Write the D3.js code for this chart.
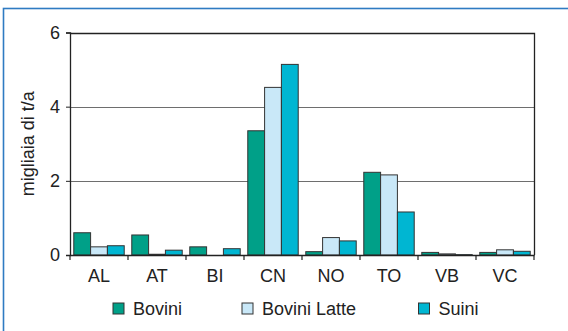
<!DOCTYPE html>
<html>
<head>
<meta charset="utf-8">
<script src="https://cdn.jsdelivr.net/npm/d3@7"></script>
<style>
  html, body { margin: 0; padding: 0; background: #fff; }
  svg { display: block; font-family: "Liberation Sans", Arial, sans-serif; }
</style>
</head>
<body>
<svg id="chart" width="568" height="331"></svg>
<script>
// Provinces and emissions (thousand t/year) per livestock type
const provinces = ["AL", "AT", "BI", "CN", "NO", "TO", "VB", "VC"];
const seriesNames = ["Bovini", "Bovini Latte", "Suini"];
const bovini      = [0.60, 0.54, 0.22, 3.35, 0.09, 2.23, 0.07, 0.07];
const boviniLatte = [0.22, 0.02, 0.00, 4.52, 0.47, 2.16, 0.03, 0.14];
const suini       = [0.25, 0.13, 0.17, 5.14, 0.38, 1.16, 0.01, 0.10];
const yTicks = [0, 2, 4, 6];
const colors = ["#00a088", "#c9e8f8", "#00b6d2"];

const seriesValues = [bovini, boviniLatte, suini];
const rows = provinces.map((p, i) => ({
  province: p,
  values: seriesNames.map((s, k) => ({ key: s, value: seriesValues[k][i] }))
}));

const svg = d3.select("#chart");
const m = { left: 70, right: 34, top: 32.5, bottom: 76 };
const W = 568, H = 331;

// Outer panel border
svg.append("rect")
  .attr("x", 3.5).attr("y", 8.5)
  .attr("width", 700).attr("height", 500)
  .attr("fill", "none").attr("stroke", "#2f7bc2").attr("stroke-width", 1.6);

const x0 = d3.scaleBand().domain(provinces)
  .range([m.left, W - m.right]).paddingInner(0).paddingOuter(0);
const x1 = d3.scaleBand().domain(seriesNames)
  .range([0, x0.bandwidth()]).paddingInner(0).paddingOuter(0.225);
const y = d3.scaleLinear().domain([0, 6]).range([H - m.bottom, m.top]);

// Gridlines
svg.append("g").selectAll("line").data(yTicks.filter(t => t > 0 && t < 6)).join("line")
  .attr("x1", m.left).attr("x2", W - m.right)
  .attr("y1", d => Math.round(y(d)) + 0.5).attr("y2", d => Math.round(y(d)) + 0.5)
  .attr("stroke", "#6e6e6e").attr("stroke-width", 1);

// Frame top and right
svg.append("path")
  .attr("d", `M${m.left},${Math.round(y(6)) + 0.5}H${W - m.right + 0.5}V${y(0)}`)
  .attr("fill", "none").attr("stroke", "#222").attr("stroke-width", 1.3);

// Bars
svg.append("g").selectAll("g").data(rows).join("g")
  .attr("transform", d => `translate(${x0(d.province)},0)`)
  .selectAll("rect").data(d => d.values).join("rect")
    .attr("x", d => x1(d.key))
    .attr("y", d => y(d.value))
    .attr("width", x1.bandwidth())
    .attr("height", d => y(0) - y(d.value))
    .attr("fill", (d, i) => colors[i])
    .attr("stroke", "#333").attr("stroke-width", 1);

// Y axis
const yAxis = svg.append("g")
  .attr("transform", `translate(${m.left},0)`)
  .call(d3.axisLeft(y).tickValues(yTicks).tickFormat(d3.format("d")).tickSize(4).tickPadding(6));
yAxis.select(".domain").attr("stroke", "#222").attr("stroke-width", 1.3);
yAxis.selectAll(".tick line").attr("stroke", "#222");
yAxis.selectAll("text").attr("font-size", 18).attr("fill", "#222")
  .attr("font-family", "Liberation Sans, Arial, sans-serif");

// X axis
const xAxis = svg.append("g")
  .attr("transform", `translate(0,${y(0)})`)
  .call(d3.axisBottom(x0).tickSize(0).tickPadding(14));
xAxis.select(".domain").attr("stroke", "#222").attr("stroke-width", 1.3);
xAxis.selectAll("text").attr("font-size", 18).attr("fill", "#222")
  .attr("font-family", "Liberation Sans, Arial, sans-serif");
// Category separator ticks
const sepTicks = provinces.map((p, i) => x0(p)).concat([W - m.right]);
svg.append("g").selectAll("line").data(sepTicks).join("line")
  .attr("x1", d => d).attr("x2", d => d)
  .attr("y1", y(0)).attr("y2", y(0) + 5)
  .attr("stroke", "#222").attr("stroke-width", 1.2);

// Y axis title
svg.append("text")
  .attr("transform", `translate(34,${(y(0) + y(6)) / 2}) rotate(-90)`)
  .attr("text-anchor", "middle")
  .attr("font-size", 18).attr("fill", "#222")
  .text("migliaia di t/a");

// Legend
const legendX = [113, 242, 418.5];
const lg = svg.append("g").selectAll("g").data(seriesNames).join("g")
  .attr("transform", (d, i) => `translate(${legendX[i]},303)`);
lg.append("rect").attr("width", 11).attr("height", 11)
  .attr("fill", (d, i) => colors[i]).attr("stroke", "#333").attr("stroke-width", 1);
lg.append("text").attr("x", 20).attr("y", 11.5)
  .attr("font-size", 18).attr("fill", "#222")
  .text(d => d);
</script>
</body>
</html>
